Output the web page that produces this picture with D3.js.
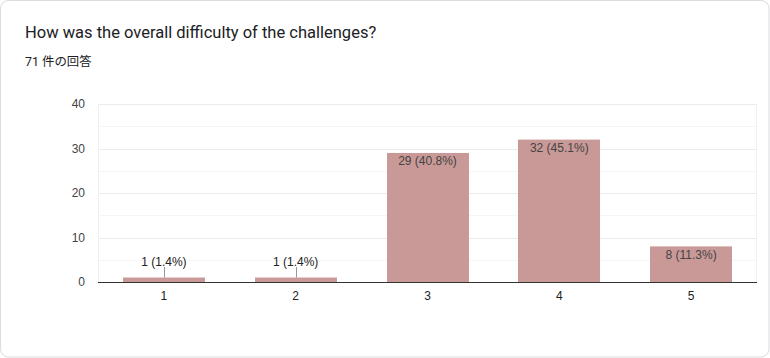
<!DOCTYPE html>
<html><head><meta charset="utf-8">
<script src="https://cdn.jsdelivr.net/npm/d3@7"></script>
<style>
html,body{margin:0;padding:0;background:#fff;}
svg{display:block;}
</style></head>
<body>
<svg id="c" width="770" height="358"></svg>
<script>
const title = "How was the overall difficulty of the challenges?";
const subtitle = "71 件の回答";
const categories = ["1", "2", "3", "4", "5"];
const counts = [1, 1, 29, 32, 8];
const percents = ["1.4%", "1.4%", "40.8%", "45.1%", "11.3%"];
const yTicks = [0, 10, 20, 30, 40];
const yMinor = [5, 15, 25, 35];

(function () {
const svg = d3.select("#c");
svg.append("rect").attr("x", 0.5).attr("y", 0.5).attr("width", 768.5).attr("height", 356.5)
  .attr("rx", 8).attr("fill", "#fff").attr("stroke", "#dadce0");

svg.append("text").attr("x", 25).attr("y", 38).text(title)
  .attr("font-family", "Roboto, Arial, sans-serif").attr("font-size", 16.5).attr("fill", "#202124");
svg.append("text").attr("x", 25).attr("y", 66).text(subtitle)
  .attr("font-family", "Roboto, 'Noto Sans CJK JP', sans-serif").attr("font-size", 12.4).attr("fill", "#202124");

const pLeft = 98, pRight = 757, pTop = 104, pBottom = 282;
const x = d3.scaleBand().domain(categories).range([pLeft, pRight]).paddingInner(0.38).paddingOuter(0.19);
const y = d3.scaleLinear().domain([0, 40]).range([pBottom, pTop]);

const g = svg.append("g").attr("font-family", "Arial, 'Liberation Sans', sans-serif");
g.selectAll(".minor").data(yMinor).join("line")
  .attr("x1", pLeft).attr("x2", pRight).attr("y1", d => Math.round(y(d)) + 0.5).attr("y2", d => Math.round(y(d)) + 0.5)
  .attr("stroke", "#f5f5f5");
g.selectAll(".major").data(yTicks.slice(1)).join("line")
  .attr("x1", pLeft).attr("x2", pRight).attr("y1", d => Math.round(y(d)) + 0.5).attr("y2", d => Math.round(y(d)) + 0.5)
  .attr("stroke", "#ebebeb");
g.append("line").attr("x1", pLeft + 0.5).attr("x2", pLeft + 0.5).attr("y1", pTop).attr("y2", pBottom).attr("stroke", "#f0f0f0");
g.append("line").attr("x1", pRight - 0.5).attr("x2", pRight - 0.5).attr("y1", pTop).attr("y2", pBottom).attr("stroke", "#f0f0f0");

const yAxis = d3.axisLeft(y).tickValues(yTicks).tickSize(0).tickPadding(0);
const ya = g.append("g").attr("transform", `translate(${pLeft - 13},0)`).call(yAxis);
ya.select(".domain").remove();
ya.selectAll("text").attr("font-size", 12).attr("fill", "#444").attr("font-family", "Arial, 'Liberation Sans', sans-serif");

g.selectAll(".bar").data(categories).join("rect")
  .attr("x", d => Math.round(x(d))).attr("width", Math.round(x.bandwidth()))
  .attr("y", (d, i) => y(counts[i])).attr("height", (d, i) => pBottom - y(counts[i]))
  .attr("fill", "#c99997");

g.append("line").attr("x1", pLeft).attr("x2", pRight).attr("y1", pBottom + 0.5).attr("y2", pBottom + 0.5).attr("stroke", "#333");

const xAxis = d3.axisBottom(x).tickSize(0).tickPadding(0);
const xa = g.append("g").attr("transform", `translate(0,${pBottom + 18})`).call(xAxis);
xa.select(".domain").remove();
xa.selectAll("text").attr("font-size", 12).attr("fill", "#222").attr("dy", 0).attr("font-family", "Arial, 'Liberation Sans', sans-serif");

categories.forEach((c, i) => {
  const cx = x(c) + x.bandwidth() / 2;
  const label = `${counts[i]} (${percents[i]})`;
  const barTop = y(counts[i]);
  if (pBottom - barTop > 20) {
    g.append("text").attr("x", cx).attr("y", barTop + 12.5).attr("text-anchor", "middle")
      .attr("font-size", 12).attr("fill", "#444").text(label);
  } else {
    g.append("line").attr("x1", Math.round(cx) + 0.5).attr("x2", Math.round(cx) + 0.5)
      .attr("y1", 267).attr("y2", barTop).attr("stroke", "#999");
    g.append("text").attr("x", cx).attr("y", 265.5).attr("text-anchor", "middle")
      .attr("font-size", 12).attr("fill", "#222").text(label);
  }
});
})();
</script>
</body></html>
